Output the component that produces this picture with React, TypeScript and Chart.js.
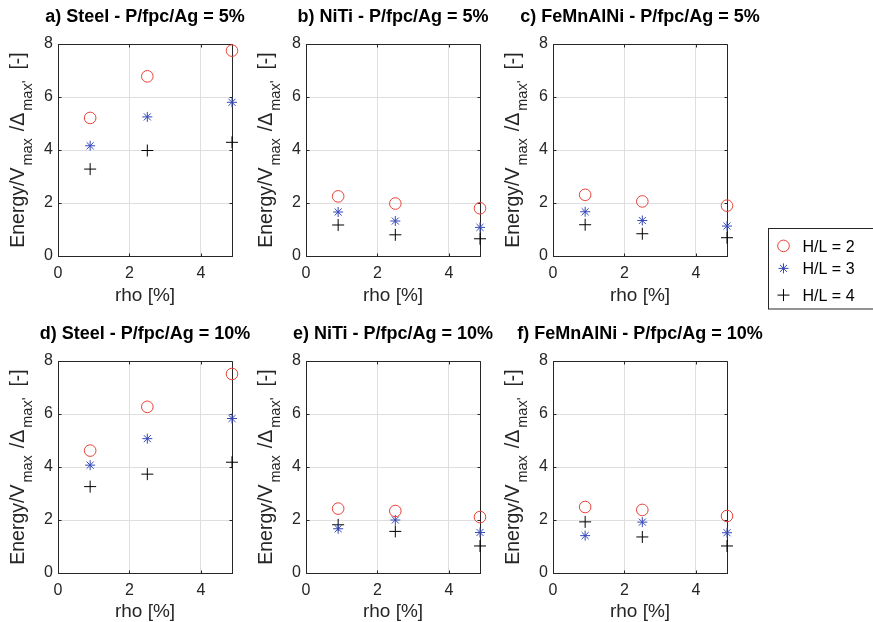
import React, { useEffect, useRef } from 'react';
import { Chart, registerables } from 'chart.js';

Chart.register(...registerables);

const FONT = "'Liberation Sans', Arial, Helvetica, sans-serif";

// ---- data ----
const rho = [0.9, 2.5, 4.87];
const xTickValues = [0, 2, 4];
const yTickValues = [0, 2, 4, 6, 8];
const seriesLabels = ['H/L = 2', 'H/L = 3', 'H/L = 4'];
const xAxisLabel = 'rho [%]';

const titles = [
  'a) Steel - P/fpc/Ag = 5%',
  'b) NiTi - P/fpc/Ag = 5%',
  'c) FeMnAlNi - P/fpc/Ag = 5%',
  'd) Steel - P/fpc/Ag = 10%',
  'e) NiTi - P/fpc/Ag = 10%',
  'f) FeMnAlNi - P/fpc/Ag = 10%',
];

const steel5_HL2 = [5.21, 6.78, 7.75];
const steel5_HL3 = [4.16, 5.25, 5.8];
const steel5_HL4 = [3.28, 3.98, 4.29];

const niti5_HL2 = [2.25, 1.98, 1.8];
const niti5_HL3 = [1.66, 1.32, 1.08];
const niti5_HL4 = [1.17, 0.8, 0.65];

const femn5_HL2 = [2.31, 2.06, 1.9];
const femn5_HL3 = [1.67, 1.34, 1.13];
const femn5_HL4 = [1.18, 0.84, 0.69];

const steel10_HL2 = [4.62, 6.27, 7.51];
const steel10_HL3 = [4.07, 5.07, 5.83];
const steel10_HL4 = [3.26, 3.73, 4.18];

const niti10_HL2 = [2.43, 2.34, 2.11];
const niti10_HL3 = [1.67, 2.0, 1.53];
const niti10_HL4 = [1.82, 1.57, 1.02];

const femn10_HL2 = [2.49, 2.38, 2.15];
const femn10_HL3 = [1.41, 1.92, 1.52];
const femn10_HL4 = [1.93, 1.36, 1.02];

const panelSeries = [
  [steel5_HL2, steel5_HL3, steel5_HL4],
  [niti5_HL2, niti5_HL3, niti5_HL4],
  [femn5_HL2, femn5_HL3, femn5_HL4],
  [steel10_HL2, steel10_HL3, steel10_HL4],
  [niti10_HL2, niti10_HL3, niti10_HL4],
  [femn10_HL2, femn10_HL3, femn10_HL4],
];

// ---- styles / layout ----
const COLORS = ['rgb(232,66,54)', 'rgb(52,72,184)', '#000000'];
const STYLES = ['circle', 'star', 'cross'];
const RADII = [5.8, 5, 6];
const AXIS_COLOR = '#262626';
const GRID_COLOR = '#dfdfdf';

const PLOT_LEFTS = [58, 306, 553];
const PLOT_TOPS = [44, 361];
const PLOT_W = 174;
const PLOT_H = 212;
const M_LEFT = 58;
const M_TOP = 44;
const CANVAS_W = [282, 282, 378];
const CANVAS_H = [310, 305];
const XLABEL_OFFSET = [45, 43.5];

function drawMarker(ctx: CanvasRenderingContext2D, style: string, x: number, y: number, r: number, color: string) {
  ctx.save();
  ctx.strokeStyle = color;
  ctx.lineWidth = 1;
  ctx.beginPath();
  if (style === 'circle') {
    ctx.arc(x, y, r, 0, Math.PI * 2);
  } else if (style === 'cross') {
    ctx.moveTo(x - r, y); ctx.lineTo(x + r, y);
    ctx.moveTo(x, y - r); ctx.lineTo(x, y + r);
  } else {
    ctx.moveTo(x - r, y); ctx.lineTo(x + r, y);
    ctx.moveTo(x, y - r); ctx.lineTo(x, y + r);
    const d = r * Math.SQRT1_2;
    ctx.moveTo(x - d, y - d); ctx.lineTo(x + d, y + d);
    ctx.moveTo(x - d, y + d); ctx.lineTo(x + d, y - d);
  }
  ctx.stroke();
  ctx.restore();
}

function makePlugin(title: string, withLegend: boolean, xLabelOffset: number) {
  return {
    id: 'matlabDecor',
    beforeDatasetsDraw(chart: any) {
      const { ctx, chartArea: a, scales } = chart;
      const xs = scales.x;
      const ys = scales.y;
      const L = Math.round(a.left) + 0.5;
      const R = Math.round(a.right) + 0.5;
      const T = Math.round(a.top) + 0.5;
      const B = Math.round(a.bottom) + 0.5;
      ctx.save();
      ctx.strokeStyle = AXIS_COLOR;
      ctx.lineWidth = 1;
      ctx.beginPath();
      ctx.moveTo(L, T); ctx.lineTo(R, T);
      ctx.moveTo(R, T); ctx.lineTo(R, B);
      const tl = 3;
      xTickValues.forEach((v) => {
        const px = Math.round(xs.getPixelForValue(v)) + 0.5;
        ctx.moveTo(px, B); ctx.lineTo(px, B - tl);
        ctx.moveTo(px, T); ctx.lineTo(px, T + tl);
      });
      yTickValues.forEach((v) => {
        const py = Math.round(ys.getPixelForValue(v)) + 0.5;
        ctx.moveTo(L, py); ctx.lineTo(L + tl, py);
        ctx.moveTo(R, py); ctx.lineTo(R - tl, py);
      });
      ctx.stroke();
      ctx.restore();
    },
    afterDraw(chart: any) {
      const { ctx, chartArea: a } = chart;
      const cx = (a.left + a.right) / 2;
      const cy = (a.top + a.bottom) / 2;
      ctx.save();
      // title
      ctx.fillStyle = '#000';
      ctx.font = `bold 18px ${FONT}`;
      ctx.textAlign = 'center';
      ctx.textBaseline = 'alphabetic';
      ctx.fillText(title, cx, a.top - 22);
      // x label
      ctx.fillStyle = AXIS_COLOR;
      ctx.font = `19px ${FONT}`;
      ctx.fillText(xAxisLabel, cx, a.bottom + xLabelOffset);
      // y label with subscripts (text, isSub, gap after)
      const mainF = `19.5px ${FONT}`;
      const subF = `14.5px ${FONT}`;
      const segs: [string, boolean, number][] = [
        ['Energy/V', false, 2],
        ['max', true, 7],
        ['/\u0394', false, 2],
        ["max'", true, 11],
        ['[-]', false, 0],
      ];
      let total = 0;
      const widths = segs.map(([t, sub, g]) => {
        ctx.font = sub ? subF : mainF;
        const w = ctx.measureText(t).width;
        total += w + g;
        return w;
      });
      ctx.translate(a.left - 34, cy);
      ctx.rotate(-Math.PI / 2);
      ctx.textAlign = 'left';
      let x = -total / 2;
      segs.forEach(([t, sub, g], i) => {
        ctx.font = sub ? subF : mainF;
        ctx.fillText(t, x, sub ? 8 : 0);
        x += widths[i] + g;
      });
      ctx.restore();

      if (withLegend) {
        ctx.save();
        const bx = 273.5;
        const by = 228.5;
        const bh = 80.5;
        ctx.fillStyle = '#ffffff';
        ctx.fillRect(bx, by, 120, bh);
        ctx.strokeStyle = AXIS_COLOR;
        ctx.lineWidth = 1;
        ctx.strokeRect(bx, by, 120, bh);
        const baselines = [251.5, 274, 300.7];
        ctx.font = `16px ${FONT}`;
        ctx.fillStyle = '#000';
        ctx.textAlign = 'left';
        ctx.textBaseline = 'alphabetic';
        seriesLabels.forEach((lab, i) => {
          const yb = baselines[i];
          drawMarker(ctx, STYLES[i], 288.5, yb - 5.6, RADII[i], COLORS[i]);
          ctx.fillText(lab, 307.5, yb);
        });
        ctx.restore();
      }
    },
  };
}

function Panel({ idx }: { idx: number }) {
  const ref = useRef<HTMLCanvasElement | null>(null);
  const row = Math.floor(idx / 3);
  const col = idx % 3;
  const W = CANVAS_W[col];
  const H = CANVAS_H[row];
  const left = PLOT_LEFTS[col] - M_LEFT;
  const top = PLOT_TOPS[row] - M_TOP;

  useEffect(() => {
    if (!ref.current) return;
    const series = panelSeries[idx];
    const datasets = series.map((vals, i) => ({
      label: seriesLabels[i],
      data: vals.map((v, j) => ({ x: rho[j], y: v })),
      pointStyle: STYLES[i],
      pointRadius: RADII[i],
      pointBorderWidth: 1,
      borderColor: COLORS[i],
      pointBorderColor: COLORS[i],
      backgroundColor: 'rgba(0,0,0,0)',
      pointBackgroundColor: 'rgba(0,0,0,0)',
      showLine: false,
      clip: false as any,
    }));
    const chart = new Chart(ref.current, {
      type: 'scatter',
      data: { datasets },
      options: {
        animation: false,
        responsive: false,
        devicePixelRatio: 1,
        events: [],
        layout: { padding: { left: 0, top: M_TOP, right: W - M_LEFT - PLOT_W, bottom: 0 } },
        plugins: { legend: { display: false }, tooltip: { enabled: false }, title: { display: false } },
        scales: {
          x: {
            type: 'linear',
            min: 0,
            max: Math.max(...rho),
            ticks: {
              stepSize: 2,
              includeBounds: false,
              padding: 8,
              maxRotation: 0,
              color: AXIS_COLOR,
              font: { family: FONT, size: 16 },
            },
            grid: { color: GRID_COLOR, drawTicks: false, lineWidth: 1 },
            border: { display: true, color: AXIS_COLOR, width: 1 },
            afterFit: (s: any) => { s.height = H - M_TOP - PLOT_H; },
          },
          y: {
            type: 'linear',
            min: 0,
            max: 8,
            ticks: {
              stepSize: 2,
              padding: 5,
              color: AXIS_COLOR,
              font: { family: FONT, size: 16 },
            },
            grid: { color: GRID_COLOR, drawTicks: false, lineWidth: 1 },
            border: { display: true, color: AXIS_COLOR, width: 1 },
            afterFit: (s: any) => { s.width = M_LEFT; },
          },
        },
      },
      plugins: [makePlugin(titles[idx], idx === 2, XLABEL_OFFSET[row])],
    } as any);
    return () => chart.destroy();
  }, [idx]);

  return (
    <canvas
      ref={ref}
      width={W}
      height={H}
      style={{ position: 'absolute', left, top, width: W, height: H }}
    />
  );
}

export default function App() {
  return (
    <div style={{ position: 'absolute', left: 0, top: 0, width: 873, height: 622, background: '#ffffff', overflow: 'hidden' }}>
      {[0, 1, 2, 3, 4, 5].map((i) => (
        <Panel key={i} idx={i} />
      ))}
    </div>
  );
}
